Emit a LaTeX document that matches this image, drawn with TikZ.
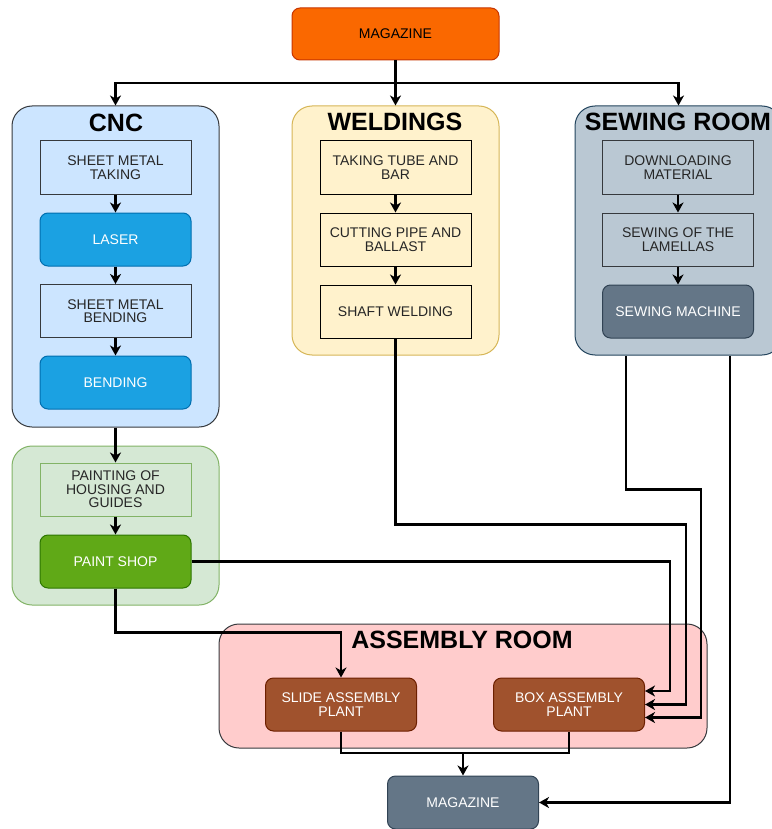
\documentclass[tikz,border=0pt]{standalone}
\usepackage{fontspec}
\setmainfont{Liberation Sans}
\usetikzlibrary{arrows.meta}
\definecolor{orangefill}{HTML}{FA6800}
\definecolor{orangeline}{HTML}{C73500}
\definecolor{cncfill}{HTML}{CCE5FF}
\definecolor{darkline}{HTML}{36393D}
\definecolor{laserfill}{HTML}{1BA1E2}
\definecolor{laserline}{HTML}{006EAF}
\definecolor{weldfill}{HTML}{FFF2CC}
\definecolor{weldline}{HTML}{D6B656}
\definecolor{sewfill}{HTML}{BAC8D3}
\definecolor{sewline}{HTML}{23445D}
\definecolor{machfill}{HTML}{647687}
\definecolor{machline}{HTML}{314354}
\definecolor{paintfill}{HTML}{D5E8D4}
\definecolor{paintline}{HTML}{82B366}
\definecolor{shopfill}{HTML}{60A917}
\definecolor{shopline}{HTML}{2D7600}
\definecolor{asmfill}{HTML}{FFCCCC}
\definecolor{plantfill}{HTML}{A0522D}
\definecolor{plantline}{HTML}{6D1F00}
\begin{document}
\begin{tikzpicture}[x=1pt,y=-1pt,
	room/.style={draw, rounded corners=20pt, line width=1pt},
	stage/.style={draw, minimum width=151pt, minimum height=53pt, inner sep=1pt, align=center, line width=1pt, text=black!85, font=\fontsize{14}{13.5}\selectfont},
	machine/.style={stage, rounded corners=8pt, text=white},
	title/.style={font=\fontsize{25}{25}\selectfont\bfseries},
	link/.style={line width=2.2pt},
	flow/.style={link, -{Stealth[length=10pt,width=11pt,inset=3pt]}}]
			\useasboundingbox (0,0) rectangle (771,829);
			\node[room, fill=cncfill, draw=darkline, minimum width=207pt, minimum height=321pt] (cnc) at (115.5,266.5) {};
			\node[room, fill=weldfill, draw=weldline, minimum width=207pt, minimum height=249pt] (weld) at (395.5,230.5) {};
			\node[room, fill=sewfill, draw=sewline, minimum width=207pt, minimum height=249pt] (sew) at (678.5,230.5) {};
			\node[room, fill=paintfill, draw=paintline, minimum width=207pt, minimum height=159pt] (paint) at (115.5,525.5) {};
			\node[room, fill=asmfill, draw=darkline, minimum width=488pt, minimum height=124pt] (asm) at (463,686) {};
			\node[title] (cnctitle) at (116,123) {CNC};
			\node[title] (weldtitle) at (395,122) {WELDINGS};
			\node[title] (sewtitle) at (678,122) {SEWING ROOM};
			\node[title] (asmtitle) at (462,640) {ASSEMBLY ROOM};
			\node[machine, fill=orangefill, draw=orangeline, text=black, minimum width=207pt, minimum height=52pt] (mag1) at (395.5,34) {MAGAZINE};
			\node[stage, fill=cncfill, draw=darkline] (sheettake) at (115.5,167.5) {SHEET METAL\\TAKING};
			\node[machine, fill=laserfill, draw=laserline] (laser) at (115.5,239.5) {LASER};
			\node[stage, fill=cncfill, draw=darkline] (sheetbend) at (115.5,311) {SHEET METAL\\BENDING};
			\node[machine, fill=laserfill, draw=laserline] (bending) at (115.5,382.5) {BENDING};
			\node[stage, fill=weldfill] (tube) at (395.5,167.5) {TAKING TUBE AND\\BAR};
			\node[stage, fill=weldfill] (cutting) at (395.5,239.5) {CUTTING PIPE AND\\BALLAST};
			\node[stage, fill=weldfill] (shaft) at (395.5,311.5) {SHAFT WELDING};
			\node[stage, fill=sewfill, draw=darkline] (download) at (678,167.5) {DOWNLOADING\\MATERIAL};
			\node[stage, fill=sewfill, draw=darkline] (lamellas) at (678,239.5) {SEWING OF THE\\LAMELLAS};
			\node[machine, fill=machfill, draw=machline] (sewmach) at (678,311.5) {SEWING MACHINE};
			\node[stage, fill=paintfill, draw=paintline] (painting) at (115.5,489.5) {PAINTING OF\\HOUSING AND\\GUIDES};
			\node[machine, fill=shopfill, draw=shopline] (shop) at (115.5,561.5) {PAINT SHOP};
			\node[machine, fill=plantfill, draw=plantline] (slide) at (341,704.5) {SLIDE ASSEMBLY\\PLANT};
			\node[machine, fill=plantfill, draw=plantline] (box) at (569,704.5) {BOX ASSEMBLY\\PLANT};
			\node[machine, fill=machfill, draw=machline] (mag2) at (463,802.5) {MAGAZINE};
			\coordinate (split) at (395.5,83);
			\coordinate (merge) at (463,753);
			\draw[flow] (mag1) -- (weld);
			\draw[flow] (split) -| (cnc.north);
			\draw[flow] (split) -| (sew.north);
			\draw[flow] (sheettake) -- (laser);
			\draw[flow] (laser) -- (sheetbend);
			\draw[flow] (sheetbend) -- (bending);
			\draw[flow] (tube) -- (cutting);
			\draw[flow] (cutting) -- (shaft);
			\draw[flow] (download) -- (lamellas);
			\draw[flow] (lamellas) -- (sewmach);
			\draw[flow] (cnc.south) -- (painting.north);
			\draw[flow] (painting) -- (shop);
			\draw[flow] (shop.south) -- ++(0,44) -| (slide.north);
			\draw[flow] (shop.east) -| ([xshift=25pt,yshift=13.5pt]box.east) -- ([yshift=13.5pt]box.east);
			\draw[flow] (shaft.south) -- ++(0,186) -| ([xshift=41pt]box.east) -- (box.east);
			\draw[flow] ([xshift=-52.5pt]sew.south) -- ++(0,134) -| ([xshift=56pt,yshift=-13pt]box.east) -- ([yshift=-13pt]box.east);
			\draw[flow] ([xshift=51.5pt]sew.south) |- (mag2.east);
			\draw[link] (slide.south) |- (merge);
			\draw[link] (box.south) |- (merge);
			\draw[flow] (merge) -- (mag2.north);
		\end{tikzpicture}
\end{document}
